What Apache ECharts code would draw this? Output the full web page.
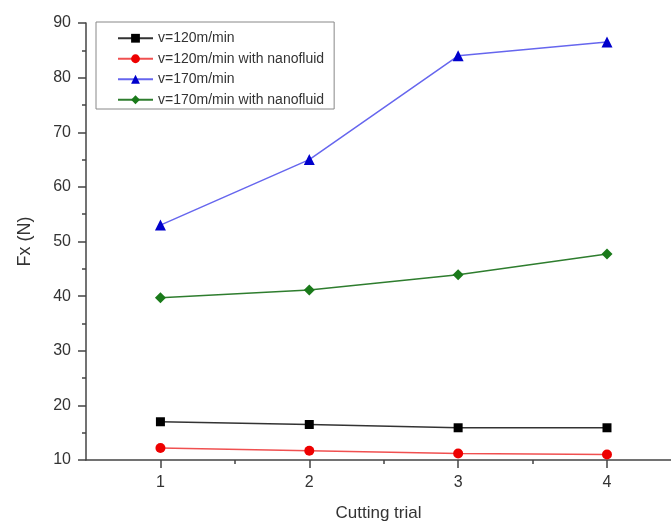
<!DOCTYPE html>
<html>
<head>
<meta charset="utf-8">
<script src="https://cdn.jsdelivr.net/npm/echarts@6/dist/echarts.min.js"></script>
<style>
html,body{margin:0;padding:0;background:#fff;}
#chart{width:671px;height:527px;}
</style>
</head>
<body>
<div id="chart"></div>
<script>
// Data
const trials = [1, 2, 3, 4];
const v120 = [17.0, 16.5, 15.9, 15.9];
const v120Nano = [12.2, 11.7, 11.2, 11.0];
const v170 = [53.0, 65.0, 84.0, 86.5];
const v170Nano = [39.7, 41.1, 43.9, 47.7];
const seriesNames = ['v=120m/min', 'v=120m/min with nanofluid', 'v=170m/min', 'v=170m/min with nanofluid'];
const xTickLabels = [1, 2, 3, 4];
const xMinorTicks = [1.5, 2.5, 3.5];
const yTickLabels = [10, 20, 30, 40, 50, 60, 70, 80, 90];
const yMinorTicks = [15, 25, 35, 45, 55, 65, 75, 85];

const FONT = 'Liberation Sans, Arial, sans-serif';
const pairs = arr => trials.map((t, i) => [t, arr[i]]);

const chart = echarts.init(document.getElementById('chart'));
const xMin = 0.5, xMax = 4.43, yMin = 10, yMax = 90;

function mkSeries(name, data, color, lineColor, symbol, size) {
  return {
    name, type: 'line', data: pairs(data),
    symbol, symbolSize: size,
    itemStyle: { color },
    lineStyle: { color: lineColor, width: 1.5 },
    emphasis: { disabled: true },
    animation: false
  };
}

chart.setOption({
  animation: false,
  backgroundColor: '#fff',
  textStyle: { fontFamily: FONT },
  grid: { left: 86, right: 0, top: 23, bottom: 66 },
  legend: {
    orient: 'vertical',
    left: 96, top: 22,
    padding: [9, 10, 2, 21],
    itemWidth: 35, itemHeight: 11, itemGap: 6,
    borderColor: '#888', borderWidth: 1,
    textStyle: { fontFamily: FONT, fontSize: 14, color: '#333', lineHeight: 14.5 },
    data: seriesNames
  },
  xAxis: [{
    type: 'value', min: xMin, max: xMax, gridIndex: 0,
    name: 'Cutting trial', nameLocation: 'middle', nameGap: 45,
    nameTextStyle: { fontFamily: FONT, fontSize: 17, color: '#333' },
    axisLine: { lineStyle: { color: '#444', width: 1.5 } },
    axisTick: { customValues: xTickLabels, length: 8, lineStyle: { color: '#444', width: 1.5 } },
    axisLabel: { customValues: xTickLabels, fontSize: 16, color: '#333', margin: 15, fontFamily: FONT },
    splitLine: { show: false }
  }, {
    type: 'value', min: xMin, max: xMax, gridIndex: 0, position: 'bottom',
    axisLine: { show: false },
    axisTick: { customValues: xMinorTicks, length: 4, lineStyle: { color: '#444', width: 1.5 } },
    axisLabel: { show: false },
    splitLine: { show: false }
  }],
  yAxis: [{
    type: 'value', min: yMin, max: yMax,
    name: 'Fx (N)', nameLocation: 'middle', nameGap: 52,
    nameTextStyle: { fontFamily: FONT, fontSize: 18, color: '#333' },
    axisLine: { show: true, lineStyle: { color: '#444', width: 1.5 } },
    axisTick: { show: true, customValues: yTickLabels, length: 8, lineStyle: { color: '#444', width: 1.5 } },
    axisLabel: { customValues: yTickLabels, fontSize: 16, color: '#333', margin: 15, fontFamily: FONT },
    splitLine: { show: false }
  }, {
    type: 'value', min: yMin, max: yMax, position: 'left',
    axisLine: { show: false },
    axisTick: { show: true, customValues: yMinorTicks, length: 4, lineStyle: { color: '#444', width: 1.5 } },
    axisLabel: { show: false },
    splitLine: { show: false }
  }],
  series: [
    mkSeries(seriesNames[0], v120, '#000000', '#333333', 'rect', 9),
    mkSeries(seriesNames[1], v120Nano, '#ee0000', '#f05050', 'circle', 10),
    mkSeries(seriesNames[2], v170, '#0000cc', '#6666ee', 'triangle', 11),
    mkSeries(seriesNames[3], v170Nano, '#1a7a1a', '#2e7d2e', 'diamond', 11)
  ]
});
</script>
</body>
</html>
